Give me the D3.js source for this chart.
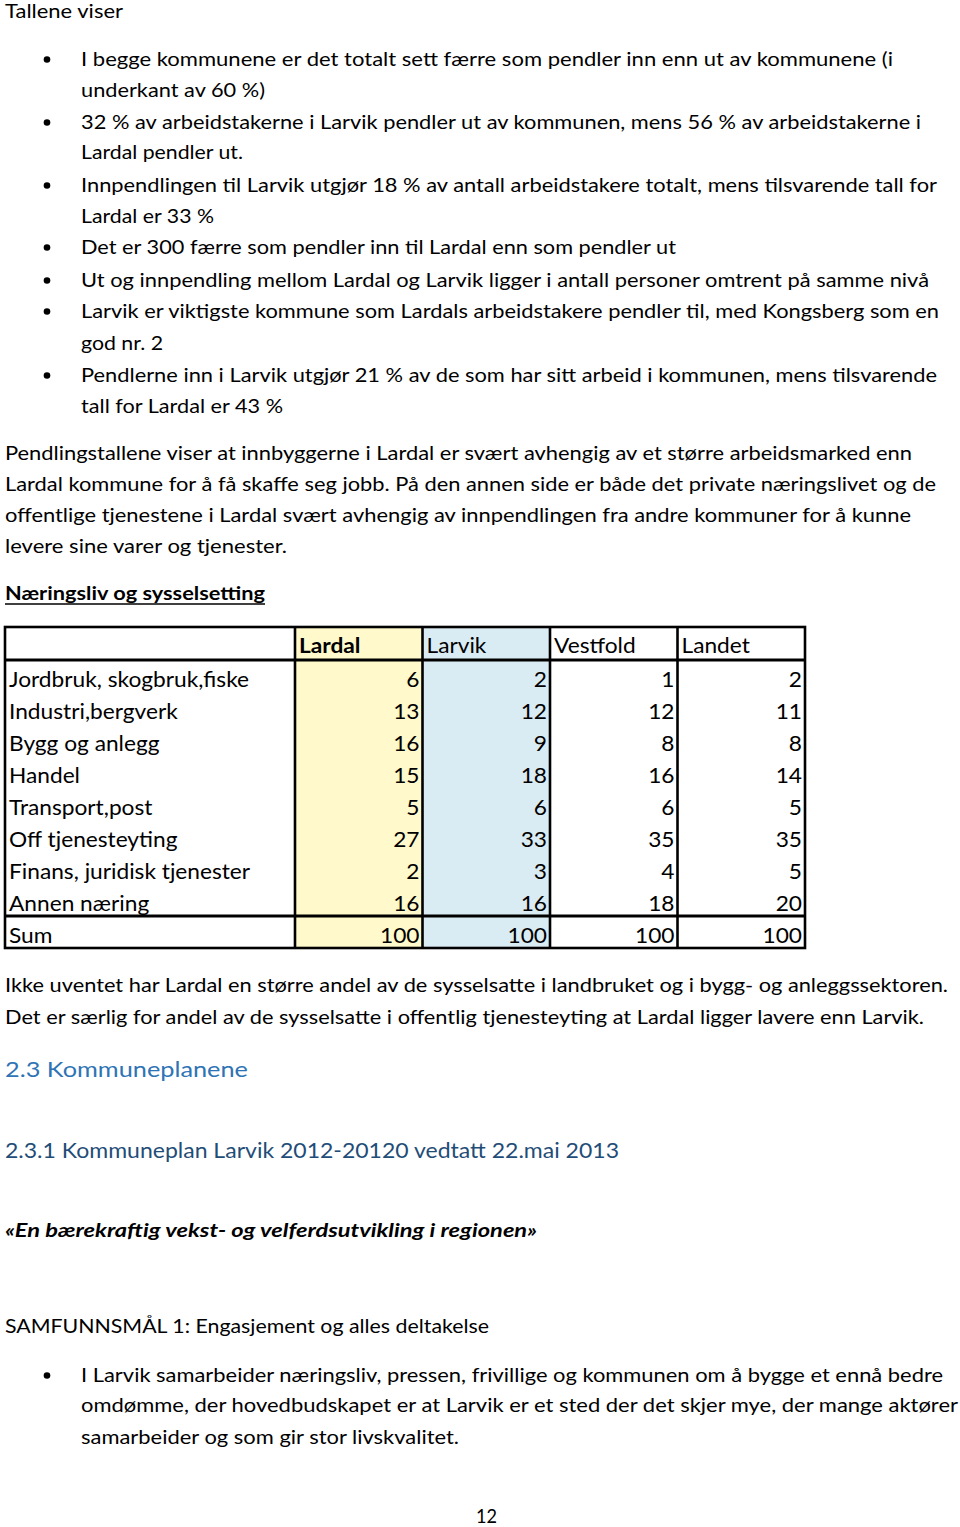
<!DOCTYPE html>
<html>
<head>
<meta charset="utf-8">
<script src="https://cdn.jsdelivr.net/npm/d3@7"></script>
<style>
  body { margin: 0; background: #fff; }
  svg { display: block; font-family: Lato, "Open Sans", sans-serif; }
</style>
</head>
<body>
<svg id="page" width="960" height="1527"></svg>
<script>
// Table data: share of employed by industry (%)
const industries = ["Jordbruk, skogbruk,fiske", "Industri,bergverk", "Bygg og anlegg", "Handel",
                    "Transport,post", "Off tjenesteyting", "Finans, juridisk tjenester", "Annen næring"];
const regions = ["Lardal", "Larvik", "Vestfold", "Landet"];
const lardal   = [6, 13, 16, 15, 5, 27, 2, 16];
const larvik   = [2, 12, 9, 18, 6, 33, 3, 16];
const vestfold = [1, 12, 8, 16, 6, 35, 4, 18];
const landet   = [2, 11, 8, 14, 5, 35, 5, 20];
const sums     = [100, 100, 100, 100];
const sumLabel = "Sum";

// Document text (content only)
const introText = "Tallene viser";
const bulletsTop = [
  ["I begge kommunene er det totalt sett færre som pendler inn enn ut av kommunene (i", "underkant av 60 %)"],
  ["32 % av arbeidstakerne i Larvik pendler ut av kommunen, mens 56 % av arbeidstakerne i", "Lardal pendler ut."],
  ["Innpendlingen til Larvik utgjør 18 % av antall arbeidstakere totalt, mens tilsvarende tall for", "Lardal er 33 %"],
  ["Det er 300 færre som pendler inn til Lardal enn som pendler ut"],
  ["Ut og innpendling mellom Lardal og Larvik ligger i antall personer omtrent på samme nivå"],
  ["Larvik er viktigste kommune som Lardals arbeidstakere pendler til, med Kongsberg som en", "god nr. 2"],
  ["Pendlerne inn i Larvik utgjør 21 % av de som har sitt arbeid i kommunen, mens tilsvarende", "tall for Lardal er 43 %"]
];
const paraText = [
  "Pendlingstallene viser at innbyggerne i Lardal er svært avhengig av et større arbeidsmarked enn",
  "Lardal kommune for å få skaffe seg jobb. På den annen side er både det private næringslivet og de",
  "offentlige tjenestene i Lardal svært avhengig av innpendlingen fra andre kommuner for å kunne",
  "levere sine varer og tjenester."
];
const sectionTitle = "Næringsliv og sysselsetting";
const afterTable = [
  "Ikke uventet har Lardal en større andel av de sysselsatte i landbruket og i bygg- og anleggssektoren.",
  "Det er særlig for andel av de sysselsatte i offentlig tjenesteyting at Lardal ligger lavere enn Larvik."
];
const heading2 = "2.3 Kommuneplanene";
const heading3 = "2.3.1 Kommuneplan Larvik 2012-20120 vedtatt 22.mai 2013";
const quote = "«En bærekraftig vekst- og velferdsutvikling i regionen»";
const goal = "SAMFUNNSMÅL 1: Engasjement og alles deltakelse";
const bulletsBottom = [
  ["I Larvik samarbeider næringsliv, pressen, frivillige og kommunen om å bygge et ennå bedre",
   "omdømme, der hovedbudskapet er at Larvik er et sted der det skjer mye, der mange aktører",
   "samarbeider og som gir stor livskvalitet."]
];
const pageNo = "12";

// Layout: baselines and widths of each text line
const topBulletY = [[66, 97], [129, 159], [192, 223], [254], [287], [318, 350], [382, 413]];
const topBulletW = [[812, 184], [840, 162], [856, 133], [595], [848], [858, 82], [856, 202]];
const paraY = [460, 491, 522, 553];
const paraW = [907, 931, 906, 282];
const afterY = [992, 1024];
const afterW = [943, 919];
const bottomBulletY = [[1382, 1412, 1444]];
const bottomBulletW = [[862, 877, 378]];

const svg = d3.select("#page");
svg.append("rect").attr("width", 960).attr("height", 1527).attr("fill", "#fff");

const BODY = 19.2;

function line(x, y, text, w, opts = {}) {
  const t = svg.append("text")
    .attr("x", x).attr("y", y)
    .attr("font-size", opts.size || BODY)
    .attr("fill", opts.color || "#000")
    .text(text);
  if (opts.weight) t.attr("font-weight", opts.weight);
  if (opts.style) t.attr("font-style", opts.style);
  if (opts.anchor) t.attr("text-anchor", opts.anchor);
  if (w) t.attr("textLength", w).attr("lengthAdjust", "spacingAndGlyphs");
  return t;
}

function bulletList(items, ys, ws) {
  items.forEach((lines, i) => {
    svg.append("circle")
      .attr("cx", 47).attr("cy", ys[i][0] - 6.5).attr("r", 3.3).attr("fill", "#000");
    lines.forEach((l, j) => line(81, ys[i][j], l, ws[i][j]));
  });
}

// --- top text
line(5, 18, introText, 118);
bulletList(bulletsTop, topBulletY, topBulletW);
paraText.forEach((l, i) => line(5, paraY[i], l, paraW[i]));

line(5, 600, sectionTitle, 260, { weight: "bold" });
svg.append("line").attr("x1", 5).attr("x2", 265).attr("y1", 604).attr("y2", 604)
  .attr("stroke", "#000").attr("stroke-width", 1.6);

// --- table
const tableLeft = 5, tableRight = 805, labelRight = 295;
const headTop = 627, headBottom = 660, bodyBottom = 916, sumBottom = 948;

const colX = d3.scaleBand().domain(regions).range([labelRight, tableRight]).padding(0);
const rowY = d3.scaleBand().domain(industries).range([headBottom, bodyBottom]).padding(0);
const series = { Lardal: lardal, Larvik: larvik, Vestfold: vestfold, Landet: landet };
const fills = { Lardal: "#fff9cc", Larvik: "#daecf3", Vestfold: "#fff", Landet: "#fff" };

const tbl = svg.append("g").attr("class", "table");

tbl.selectAll("rect.col").data(regions).enter().append("rect")
  .attr("class", "col")
  .attr("x", d => colX(d)).attr("y", headTop)
  .attr("width", colX.bandwidth()).attr("height", sumBottom - headTop)
  .attr("fill", d => fills[d]);

const TS = 20.5;
// horizontal fit so that the first label spans like in the original
const probe = tbl.append("text").attr("font-size", TS).text(industries[0]);
const tstretch = 240 / probe.node().getComputedTextLength();
probe.remove();

function tcell(x, y, text, anchor, weight) {
  const t = tbl.append("text")
    .attr("x", x).attr("y", y)
    .attr("font-size", TS)
    .attr("text-anchor", anchor || "start")
    .attr("fill", "#000")
    .text(text);
  if (weight) t.attr("font-weight", weight);
  const w = t.node().getComputedTextLength();
  t.attr("textLength", w * tstretch).attr("lengthAdjust", "spacingAndGlyphs");
  return t;
}

// header
regions.forEach((r, i) => tcell(colX(r) + 4, 653, r, "start", i === 0 ? "bold" : null));

// rows
industries.forEach((ind, i) => {
  const base = rowY(ind) + rowY.bandwidth() - 5;
  tcell(9, base, ind);
  regions.forEach(r => tcell(colX(r) + colX.bandwidth() - 3, base, String(series[r][i]), "end"));
});

// sum row
tcell(9, 943, sumLabel);
regions.forEach((r, i) => tcell(colX(r) + colX.bandwidth() - 3, 943, String(sums[i]), "end"));

// borders
const bw = 2.6;
tbl.append("rect")
  .attr("x", tableLeft).attr("y", headTop)
  .attr("width", tableRight - tableLeft).attr("height", sumBottom - headTop)
  .attr("fill", "none").attr("stroke", "#000").attr("stroke-width", bw);
[labelRight, ...regions.slice(1).map(r => colX(r))].forEach(x => {
  tbl.append("line").attr("x1", x).attr("x2", x).attr("y1", headTop).attr("y2", sumBottom)
    .attr("stroke", "#000").attr("stroke-width", bw);
});
[headBottom, bodyBottom].forEach(y => {
  tbl.append("line").attr("x1", tableLeft).attr("x2", tableRight).attr("y1", y).attr("y2", y)
    .attr("stroke", "#000").attr("stroke-width", bw + 0.6);
});

// --- text after table
afterTable.forEach((l, i) => line(5, afterY[i], l, afterW[i]));

line(5, 1077, heading2, 243, { size: 22, color: "#2e74b5" });
line(5, 1158, heading3, 614, { size: 21, color: "#1f4d78" });
line(5, 1237, quote, 532, { weight: "bold", style: "italic" });
line(5, 1333, goal, 484);
bulletList(bulletsBottom, bottomBulletY, bottomBulletW);
line(486.5, 1523, pageNo, 21, { anchor: "middle" });
</script>
</body>
</html>
